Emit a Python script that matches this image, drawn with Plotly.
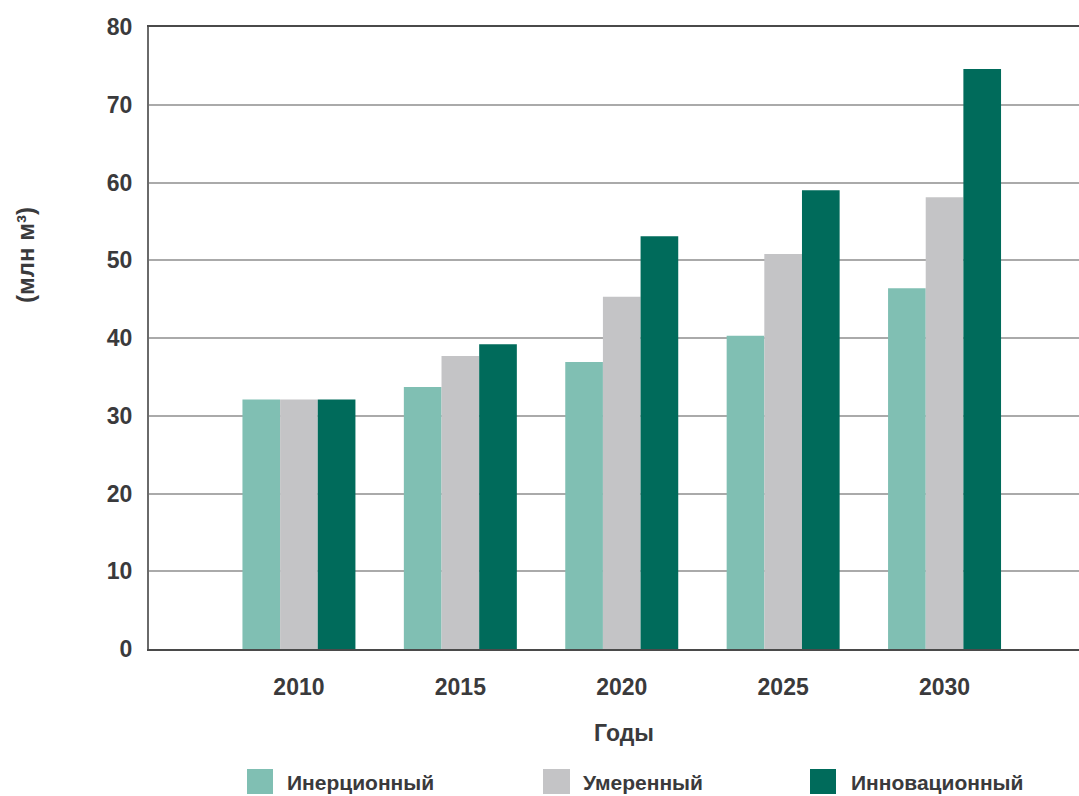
import plotly.graph_objects as go

# Годы прогноза
years = ["2010", "2015", "2020", "2025", "2030"]

# Сценарии (млн м³)
series_names = ["Инерционный", "Умеренный", "Инновационный"]
inertial = [32.1, 33.7, 36.9, 40.3, 46.4]
moderate = [32.1, 37.7, 45.3, 50.8, 58.1]
innovative = [32.1, 39.2, 53.1, 59.0, 74.6]

y_ticks = [0, 10, 20, 30, 40, 50, 60, 70, 80]

colors = ["#80bfb3", "#c4c4c6", "#006b5b"]
text_color = "#3a3a3c"
font_family = "Liberation Sans, Arial, Helvetica, sans-serif"

W, H = 1079, 796
L, R, T, B = 149, 0, 27, 147
plot_w = W - L - R
plot_h = H - T - B


def px_x(px):
    return (px - L) / plot_w


def px_y(py):
    return (H - B - py) / plot_h


fig = go.Figure()
for name, vals, col in zip(series_names, [inertial, moderate, innovative], colors):
    fig.add_trace(go.Bar(
        x=years, y=vals, name=name,
        marker=dict(color=col, line=dict(width=0)),
        showlegend=False,
    ))

# Легенда: квадратные маркеры и подписи под осью
legend_boxes = [(247, 273, 285), (543, 570, 581), (810, 836, 849)]
shapes = []
annotations = []
for (x0, x1, tx), name, col in zip(legend_boxes, series_names, colors):
    shapes.append(dict(
        type="rect", xref="paper", yref="paper",
        x0=px_x(x0), x1=px_x(x1), y0=px_y(794), y1=px_y(769),
        fillcolor=col, line=dict(width=0),
    ))
    annotations.append(dict(
        text=name, xref="paper", yref="paper",
        x=px_x(tx), y=px_y(782), xanchor="left", yanchor="middle",
        showarrow=False,
        font=dict(size=21, color=text_color, family=font_family, weight="bold"),
    ))

# Подписи осей
annotations.append(dict(
    text="Годы", xref="paper", yref="paper",
    x=px_x(624), y=px_y(733), xanchor="center", yanchor="middle",
    showarrow=False,
    font=dict(size=23, color=text_color, family=font_family, weight="bold"),
))
annotations.append(dict(
    text="(млн м³)", xref="paper", yref="paper",
    x=px_x(25), y=px_y(255), xanchor="center", yanchor="middle",
    textangle=-90, showarrow=False,
    font=dict(size=24, color=text_color, family=font_family, weight="bold"),
))

fig.update_layout(
    width=W, height=H,
    margin=dict(l=L, r=R, t=T, b=B, pad=0),
    paper_bgcolor="white", plot_bgcolor="white",
    barmode="group", bargap=0.3, bargroupgap=0,
    shapes=shapes, annotations=annotations,
    xaxis=dict(
        type="category", range=[-0.929, 4.833],
        showline=True, linecolor="#4a4a4a", linewidth=2, mirror=True,
        showgrid=False, ticks="", ticklabelstandoff=16,
        tickfont=dict(size=23, color=text_color, family=font_family, weight="bold"),
    ),
    yaxis=dict(
        range=[0, 80], tickvals=y_ticks, ticktext=[str(v) for v in y_ticks],
        showline=True, linecolor="#6a6a6a", linewidth=2,
        showgrid=True, gridcolor="#aaaaaa", gridwidth=1.6,
        zeroline=False, ticks="", ticklabelstandoff=10,
        tickfont=dict(size=23, color=text_color, family=font_family, weight="bold"),
    ),
)

fig.write_html("out.html")
